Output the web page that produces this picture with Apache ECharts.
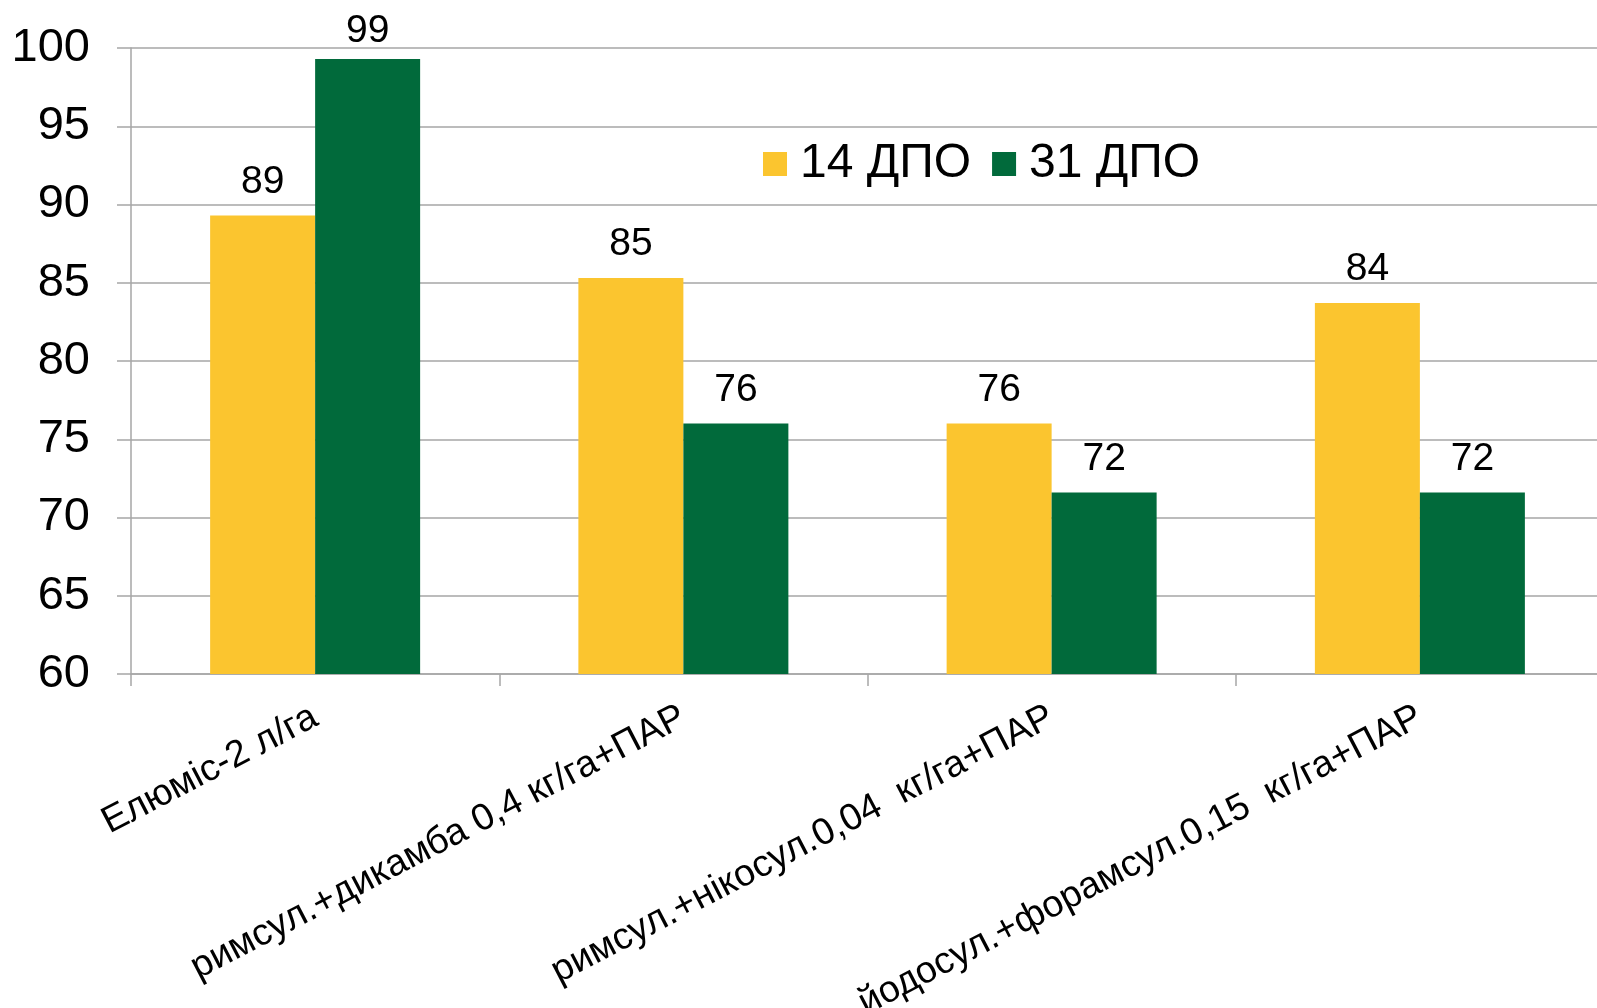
<!DOCTYPE html>
<html>
<head>
<meta charset="utf-8">
<script src="https://cdn.jsdelivr.net/npm/echarts@6/dist/echarts.min.js"></script>
<style>
  html, body { margin: 0; padding: 0; background: #ffffff; overflow: hidden; }
  #chart { width: 1597px; height: 1008px; }
</style>
</head>
<body>
<div id="chart"></div>
<script>
const categories = [
  'Елюміс-2 л/га',
  'римсул.+дикамба 0,4 кг/га+ПАР',
  'римсул.+нікосул.0,04  кг/га+ПАР',
  'йодосул.+форамсул.0,15  кг/га+ПАР'
];
const seriesNames = ['14 ДПО', '31 ДПО'];
const values14 = [89.3, 85.3, 76.0, 83.7];
const values31 = [99.3, 76.0, 71.6, 71.6];
const yTicks = { min: 60, max: 100, interval: 5 };

const FONT = '"Liberation Sans", Arial, sans-serif';
const GRID_COLOR = '#a6a6a6';

function toData(vals) {
  return vals.map(v => v > 97 ? { value: v, label: { distance: 8 } } : v);
}

const chart = echarts.init(document.getElementById('chart'), null, { renderer: 'canvas' });
chart.setOption({
  backgroundColor: '#ffffff',
  animation: false,
  textStyle: { fontFamily: FONT, color: '#000' },
  grid: { left: 131, top: 48, width: 1473, height: 626, containLabel: false, outerBoundsMode: 'none' },
  legend: {
    data: seriesNames,
    left: 758,
    top: 135,
    icon: 'rect',
    itemWidth: 24,
    itemHeight: 24,
    itemGap: 21,
    textStyle: { fontSize: 48, fontFamily: FONT, color: '#000', padding: [0, 0, 0, 8] }
  },
  xAxis: {
    type: 'category',
    data: categories,
    boundaryGap: true,
    axisLine: { show: true, lineStyle: { color: GRID_COLOR, width: 1.5 } },
    axisTick: { show: true, length: 12, lineStyle: { color: GRID_COLOR, width: 1.5 } },
    axisLabel: {
      rotate: 27.5,
      interval: 0,
      margin: 41,
      fontSize: 37.5,
      fontFamily: FONT,
      color: '#000'
    }
  },
  yAxis: {
    type: 'value',
    min: yTicks.min,
    max: yTicks.max,
    interval: yTicks.interval,
    axisLine: { show: true, lineStyle: { color: GRID_COLOR, width: 1.5 } },
    axisTick: { show: true, length: 14, lineStyle: { color: GRID_COLOR, width: 1.5 } },
    splitLine: { show: true, lineStyle: { color: GRID_COLOR, width: 1.5 } },
    axisLabel: { margin: 41, fontSize: 47, fontFamily: FONT, color: '#000' }
  },
  series: [
    {
      name: seriesNames[0],
      type: 'bar',
      data: toData(values14),
      barWidth: 105,
      barGap: '0%',
      itemStyle: { color: '#FBC52F' },
      label: {
        show: true, position: 'top', distance: 14,
        fontSize: 39, fontFamily: FONT, color: '#000',
        formatter: p => Math.round(p.value)
      }
    },
    {
      name: seriesNames[1],
      type: 'bar',
      data: toData(values31),
      barWidth: 105,
      barGap: '0%',
      itemStyle: { color: '#016A3B' },
      label: {
        show: true, position: 'top', distance: 14,
        fontSize: 39, fontFamily: FONT, color: '#000',
        formatter: p => Math.round(p.value)
      }
    }
  ]
});
</script>
</body>
</html>
